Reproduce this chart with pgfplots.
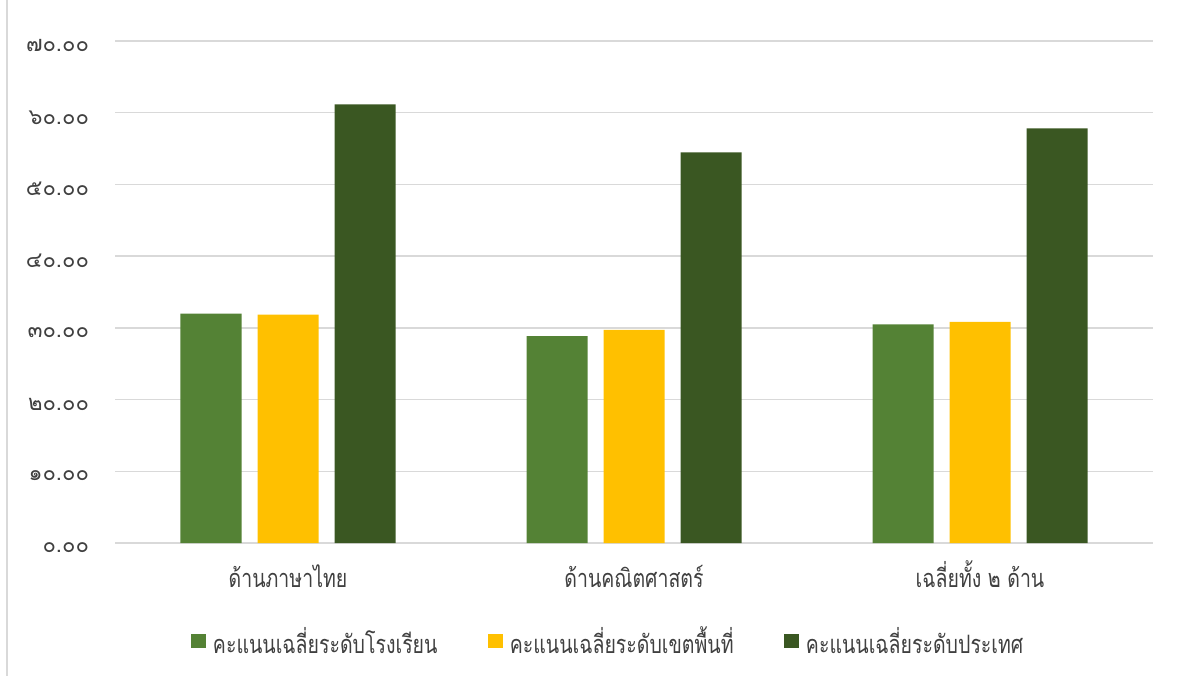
\documentclass[border=0pt]{standalone}
\usepackage{pgfplots}
\pgfplotsset{compat=1.18}
\usepackage{fontspec}
\newfontfamily\thaifont[Script=Thai]{Loma}
\newfontfamily\thaicond[Script=Thai,FakeStretch=0.77]{Loma}
\definecolor{cSchool}{HTML}{548235}
\definecolor{cArea}{HTML}{FFC000}
\definecolor{cCountry}{HTML}{3A5722}
\definecolor{gridgray}{HTML}{D9D9D9}
\definecolor{txtgray}{HTML}{404040}
\begin{document}
\begin{tikzpicture}[x=1pt,y=1pt]
\useasboundingbox (0,0) rectangle (886.5,506.25);
\draw[color=gridgray, line width=1.2pt] (5.25,-1) -- (5.25,507);
\begin{axis}[
  at={(86.25pt,99pt)}, anchor=south west,
  scale only axis, width=778.5pt, height=376.5pt,
  ybar, bar width=45.75pt, ybar=12pt,
  xmin=-0.5, xmax=2.5, ymin=0, ymax=70,
  xtick={0,1,2},
  xticklabels={ด้านภาษาไทย, ด้านคณิตศาสตร์, เฉลี่ยทั้ง ๒ ด้าน},
  ytick={0,10,20,30,40,50,60,70},
  yticklabels={๐.๐๐,๑๐.๐๐,๒๐.๐๐,๓๐.๐๐,๔๐.๐๐,๕๐.๐๐,๖๐.๐๐,๗๐.๐๐},
  ymajorgrids, grid style={color=gridgray, line width=1.1pt},
  axis lines*=left,
  axis line style={-},
  y axis line style={draw=none},
  x axis line style={color=gridgray, line width=1.1pt},
  major tick length=0pt,
  xticklabel style={font=\thaicond\fontsize{19}{22}\selectfont, text=txtgray, anchor=base, yshift=-33pt},
  yticklabel style={font=\thaifont\fontsize{16.5}{19}\selectfont, text=txtgray, anchor=east, xshift=-16pt, yshift=-3.5pt},
  legend style={at={(axis description cs:0.5,0)}, anchor=center, yshift=-73.5pt, xshift=-19pt,
    draw=none, legend columns=3, font=\thaicond\fontsize{19}{22}\selectfont, text=txtgray,
    /tikz/every even column/.append style={column sep=36pt}},
  legend image code/.code={\fill[#1] (0pt,-5.6pt) rectangle (11.25pt,5.6pt); \path (14.25pt,0pt);},
  clip=false,
]
\addplot[fill=cSchool, draw=none] coordinates {(0,32.0) (1,28.84) (2,30.47)};
\addplot[fill=cArea, draw=none] coordinates {(0,31.85) (1,29.72) (2,30.84)};
\addplot[fill=cCountry, draw=none] coordinates {(0,61.16) (1,54.46) (2,57.81)};
\legend{คะแนนเฉลี่ยระดับโรงเรียน, คะแนนเฉลี่ยระดับเขตพื้นที่, คะแนนเฉลี่ยระดับประเทศ}
\end{axis}
\end{tikzpicture}
\end{document}
